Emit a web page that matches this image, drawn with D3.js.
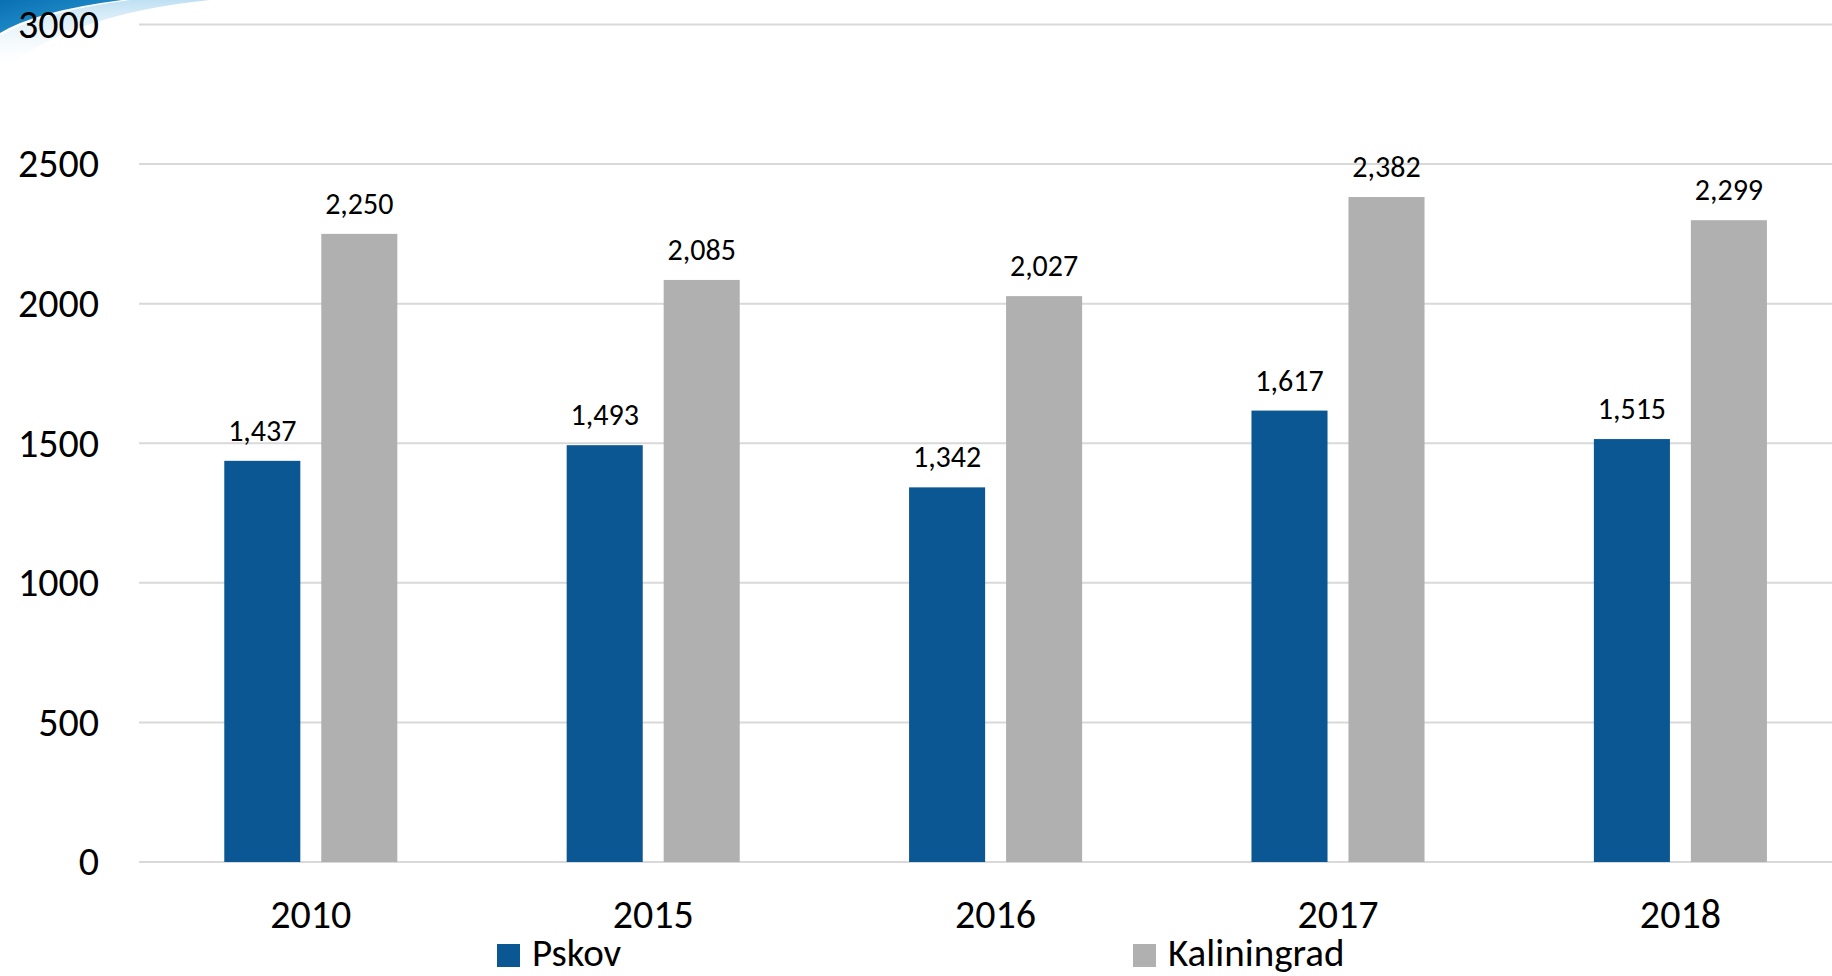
<!DOCTYPE html>
<html>
<head>
<meta charset="utf-8">
<script src="https://cdn.jsdelivr.net/npm/d3@7"></script>
<style>
  html, body { margin: 0; padding: 0; background: #fff; overflow: hidden; }
  svg { display: block; font-family: Calibri, Carlito, Lato, sans-serif; }
</style>
</head>
<body>
<svg id="chart"></svg>
<script>
// Chart data
const years = ["2010", "2015", "2016", "2017", "2018"];
const seriesNames = ["Pskov", "Kaliningrad"];
const pskovValues = [1437, 1493, 1342, 1617, 1515];
const kaliningradValues = [2250, 2085, 2027, 2382, 2299];
const yTicks = [0, 500, 1000, 1500, 2000, 2500, 3000];

const colors = { "Pskov": "#0b5794", "Kaliningrad": "#b0b0b0" };

const width = 1832, height = 976;
const svg = d3.select("#chart").attr("width", width).attr("height", height);

// Decorative swoosh in the top-left corner
const defs = svg.append("defs");
const grad = defs.append("linearGradient").attr("id", "swoosh")
    .attr("x1", "0").attr("y1", "0").attr("x2", "1").attr("y2", "1");
grad.append("stop").attr("offset", "0%").attr("stop-color", "#0a70b2");
grad.append("stop").attr("offset", "100%").attr("stop-color", "#2f9fd9");
const fade = defs.append("linearGradient").attr("id", "swooshFade")
    .attr("x1", "0").attr("y1", "0").attr("x2", "0").attr("y2", "1");
fade.append("stop").attr("offset", "0%").attr("stop-color", "#bfe0f3");
fade.append("stop").attr("offset", "100%").attr("stop-color", "#ffffff").attr("stop-opacity", 0);

svg.append("path")
    .attr("d", "M0,36 Q40,12 130,0 L210,0 Q70,14 0,72 Z")
    .attr("fill", "url(#swooshFade)");
svg.append("path")
    .attr("d", "M0,0 L0,33 Q36,11 122,0 Z")
    .attr("fill", "url(#swoosh)");

// Scales
const x0 = d3.scaleBand().domain(years).range([139.6, 1851.6]).paddingInner(0).paddingOuter(0);
const x1 = d3.scaleBand().domain(seriesNames)
    .range([x0.bandwidth() * 0.2473, x0.bandwidth() * 0.7527])
    .paddingInner(0.216).paddingOuter(0);
const y = d3.scaleLinear().domain([0, 3000]).range([862, 24.5]);

// Gridlines (incl. baseline)
svg.append("g").selectAll("line").data(yTicks).join("line")
    .attr("x1", 139).attr("x2", width)
    .attr("y1", d => y(d)).attr("y2", d => y(d))
    .attr("stroke", "#d9d9d9").attr("stroke-width", 2);

// Y axis labels
const yAxis = d3.axisLeft(y).tickValues(yTicks).tickSize(0).tickPadding(0).tickFormat(d3.format("d"));
const yg = svg.append("g").attr("transform", "translate(99,0)").call(yAxis);
yg.select(".domain").remove();
yg.selectAll("text").attr("font-size", 40).attr("fill", "#000")
    .attr("font-family", "Calibri, Carlito, Lato, sans-serif");

// Bars
const rows = years.map((yr, i) => ({ year: yr, Pskov: pskovValues[i], Kaliningrad: kaliningradValues[i] }));
const groups = svg.append("g").selectAll("g").data(rows).join("g")
    .attr("transform", d => `translate(${x0(d.year)},0)`);

groups.selectAll("rect").data(d => seriesNames.map(k => ({ key: k, value: d[k] }))).join("rect")
    .attr("x", d => x1(d.key))
    .attr("width", x1.bandwidth())
    .attr("y", d => y(d.value))
    .attr("height", d => y(0) - y(d.value))
    .attr("fill", d => colors[d.key]);

// Data labels
groups.selectAll("text").data(d => seriesNames.map(k => ({ key: k, value: d[k] }))).join("text")
    .attr("x", d => x1(d.key) + x1.bandwidth() / 2)
    .attr("y", d => y(d.value) - 20)
    .attr("text-anchor", "middle")
    .attr("font-size", 30)
    .attr("fill", "#000")
    .text(d => d3.format(",")(d.value));

// X axis labels
const xAxis = d3.axisBottom(x0).tickSize(0).tickPadding(0);
const xg = svg.append("g").attr("transform", "translate(0,900)").call(xAxis);
xg.select(".domain").remove();
xg.selectAll("text").attr("font-size", 40).attr("fill", "#000")
    .attr("font-family", "Calibri, Carlito, Lato, sans-serif");

// Legend
const legendX = [497, 1133];
const legend = svg.append("g").selectAll("g").data(seriesNames).join("g")
    .attr("transform", (d, i) => `translate(${legendX[i]},944)`);
legend.append("rect").attr("width", 23).attr("height", 23).attr("fill", d => colors[d]);
legend.append("text").attr("x", 35).attr("y", 22)
    .attr("font-size", 39).attr("fill", "#000")
    .text(d => d);
</script>
</body>
</html>
